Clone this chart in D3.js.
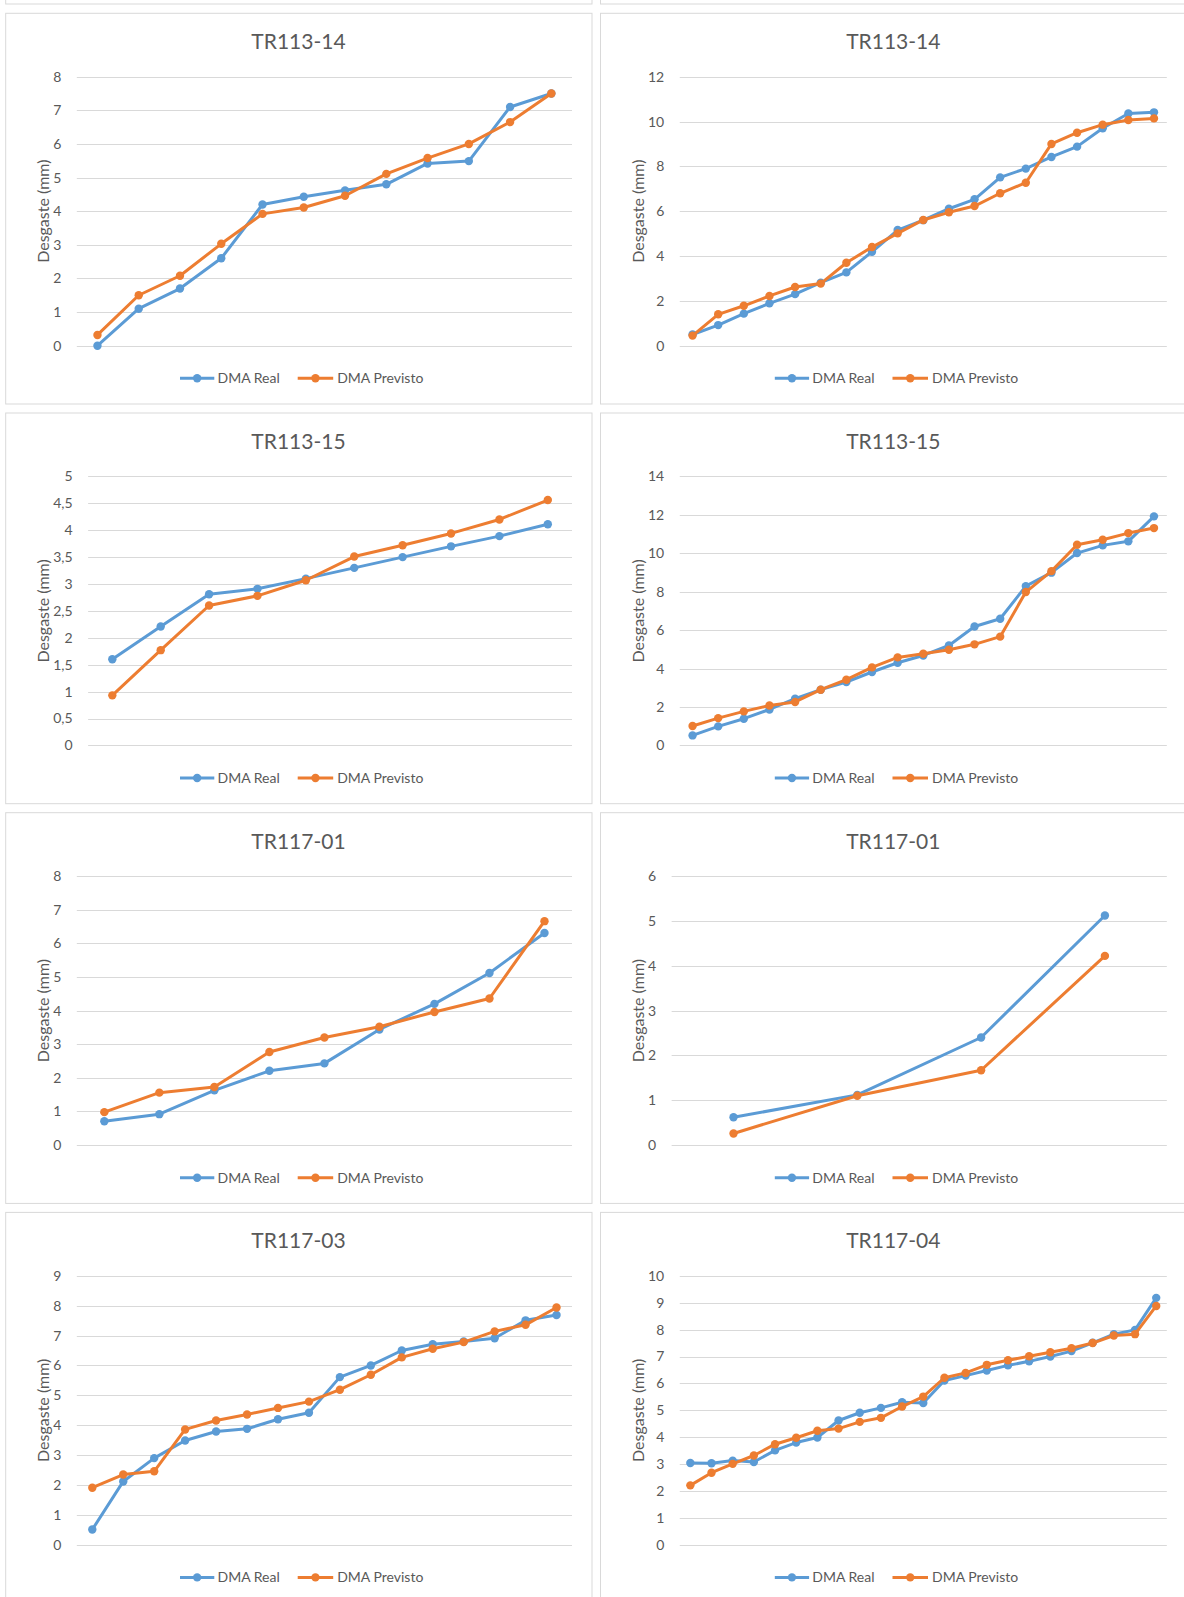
<!DOCTYPE html>
<html>
<head>
<meta charset="utf-8">
<script src="https://cdn.jsdelivr.net/npm/d3@7"></script>
<style>
  html, body { margin: 0; padding: 0; background: #fff; }
  svg { display: block; }
</style>
</head>
<body>
<svg id="chart" width="1184" height="1597"></svg>
<script>
// Wear measurements (mm): real vs. predicted, per track section
const titles = ["TR113-14", "TR113-14", "TR113-15", "TR113-15", "TR117-01", "TR117-01", "TR117-03", "TR117-04"];
const seriesNames = ["DMA Real", "DMA Previsto"];

const real1 = [0, 1.1, 1.7, 2.6, 4.2, 4.43, 4.62, 4.8, 5.42, 5.49, 7.1, 7.5];
const prev1 = [0.32, 1.5, 2.08, 3.03, 3.92, 4.11, 4.46, 5.11, 5.58, 6.0, 6.65, 7.5];

const real2 = [0.5, 0.92, 1.43, 1.89, 2.3, 2.81, 3.27, 4.19, 5.16, 5.6, 6.11, 6.53, 7.51, 7.9, 8.42, 8.88, 9.7, 10.36, 10.41];
const prev2 = [0.45, 1.4, 1.78, 2.22, 2.62, 2.77, 3.7, 4.4, 5.01, 5.61, 5.95, 6.23, 6.8, 7.27, 9.0, 9.5, 9.86, 10.07, 10.14];

const real3 = [1.6, 2.21, 2.81, 2.91, 3.1, 3.3, 3.5, 3.7, 3.89, 4.11];
const prev3 = [0.93, 1.77, 2.6, 2.78, 3.07, 3.51, 3.72, 3.94, 4.2, 4.56];

const real4 = [0.52, 0.99, 1.39, 1.87, 2.43, 2.9, 3.3, 3.82, 4.3, 4.68, 5.2, 6.19, 6.59, 8.29, 8.99, 10.01, 10.41, 10.62, 11.92];
const prev4 = [1.01, 1.42, 1.77, 2.08, 2.26, 2.9, 3.42, 4.06, 4.58, 4.77, 4.98, 5.26, 5.66, 7.98, 9.07, 10.44, 10.7, 11.05, 11.31];

const real5 = [0.71, 0.92, 1.63, 2.21, 2.43, 3.44, 4.2, 5.12, 6.31];
const prev5 = [0.98, 1.56, 1.73, 2.77, 3.2, 3.52, 3.96, 4.36, 6.66];

const real6 = [0.62, 1.12, 2.4, 5.12];
const prev6 = [0.26, 1.1, 1.67, 4.22];

const real7 = [0.51, 2.12, 2.9, 3.49, 3.79, 3.88, 4.2, 4.42, 5.61, 6.0, 6.5, 6.71, 6.8, 6.91, 7.51, 7.69];
const prev7 = [1.91, 2.35, 2.46, 3.86, 4.16, 4.36, 4.58, 4.79, 5.19, 5.69, 6.27, 6.56, 6.78, 7.14, 7.36, 7.94];

const real8 = [3.04, 3.03, 3.13, 3.08, 3.51, 3.8, 3.99, 4.62, 4.91, 5.09, 5.3, 5.27, 6.11, 6.29, 6.48, 6.67, 6.82, 7.0, 7.2, 7.51, 7.83, 7.99, 9.18];
const prev8 = [2.21, 2.68, 3.01, 3.32, 3.74, 3.98, 4.24, 4.32, 4.57, 4.72, 5.14, 5.51, 6.21, 6.39, 6.69, 6.86, 7.01, 7.16, 7.31, 7.5, 7.78, 7.83, 8.88];

// Y-axis tick values per chart
const ticks1 = [0, 1, 2, 3, 4, 5, 6, 7, 8];
const ticks2 = [0, 2, 4, 6, 8, 10, 12];
const ticks3 = [0, 0.5, 1, 1.5, 2, 2.5, 3, 3.5, 4, 4.5, 5];
const ticks4 = [0, 2, 4, 6, 8, 10, 12, 14];
const ticks5 = [0, 1, 2, 3, 4, 5, 6, 7, 8];
const ticks6 = [0, 1, 2, 3, 4, 5, 6];
const ticks7 = [0, 1, 2, 3, 4, 5, 6, 7, 8, 9];
const ticks8 = [0, 1, 2, 3, 4, 5, 6, 7, 8, 9, 10];

const charts = [
  { title: titles[0], real: real1, prev: prev1, ticks: ticks1 },
  { title: titles[1], real: real2, prev: prev2, ticks: ticks2 },
  { title: titles[2], real: real3, prev: prev3, ticks: ticks3 },
  { title: titles[3], real: real4, prev: prev4, ticks: ticks4 },
  { title: titles[4], real: real5, prev: prev5, ticks: ticks5 },
  { title: titles[5], real: real6, prev: prev6, ticks: ticks6 },
  { title: titles[6], real: real7, prev: prev7, ticks: ticks7 },
  { title: titles[7], real: real8, prev: prev8, ticks: ticks8 }
];

const COLORS = ["#5B9BD5", "#ED7D31"];
const TEXT = "#595959";
const GRID = "#D9D9D9";
const FONT = "Lato, 'Open Sans', sans-serif";

const svg = d3.select("#chart");

const panelW = 586.3, panelH = 390.7;
const colX = [5.7, 600.5];
const rowY0 = 13.3, rowPitch = 399.7;

// bottom edge of the chart block that sits above this grid
svg.append("rect").attr("x", colX[0]).attr("y", 4 - panelH).attr("width", panelW).attr("height", panelH)
  .attr("fill", "#fff").attr("stroke", GRID).attr("stroke-width", 1);
svg.append("rect").attr("x", colX[1]).attr("y", 4 - panelH).attr("width", panelW).attr("height", panelH)
  .attr("fill", "#fff").attr("stroke", GRID).attr("stroke-width", 1);

const fmt = v => String(v).replace(".", ",");

charts.forEach((c, i) => {
  const col = i % 2, row = Math.floor(i / 2);
  const L = colX[col], T = rowY0 + row * rowPitch;
  const g = svg.append("g");

  g.append("rect").attr("x", L).attr("y", T).attr("width", panelW).attr("height", panelH)
    .attr("fill", "#fff").attr("stroke", GRID).attr("stroke-width", 1);

  // measure tick label widths so the plot starts right after them
  const probe = g.append("g").attr("font-family", FONT).attr("font-size", 14);
  let maxW = 0;
  c.ticks.forEach(t => {
    const tx = probe.append("text").text(fmt(t));
    maxW = Math.max(maxW, tx.node().getComputedTextLength());
  });
  probe.remove();

  const labelLeft = L + 47.5;
  const plotLeft = labelLeft + maxW + 15.5;
  const plotRight = L + 566.3;
  const plotTop = T + 63.4, plotBottom = T + 332.4;

  const idx = d3.range(c.real.length);
  const x = d3.scalePoint().domain(idx).range([plotLeft, plotRight]).padding(0.5);
  const y = d3.scaleLinear().domain([0, c.ticks[c.ticks.length - 1]]).range([plotBottom, plotTop]);

  // gridlines
  g.append("g").selectAll("line").data(c.ticks).join("line")
    .attr("x1", plotLeft).attr("x2", plotRight)
    .attr("y1", d => Math.round(y(d)) + 0.5).attr("y2", d => Math.round(y(d)) + 0.5)
    .attr("stroke", GRID).attr("stroke-width", 1);

  // y-axis labels
  const yAxis = d3.axisLeft(y).tickValues(c.ticks).tickFormat(fmt).tickSize(0).tickPadding(15.5);
  const ax = g.append("g").attr("transform", `translate(${plotLeft},0)`).call(yAxis);
  ax.select(".domain").remove();
  ax.selectAll("text").attr("font-family", FONT).attr("font-size", 14).attr("fill", TEXT);

  // title
  g.append("text").attr("x", L + 292.8).attr("y", T + 36)
    .attr("text-anchor", "middle").attr("font-family", FONT).attr("font-size", 21)
    .attr("fill", TEXT).text(c.title);

  // y-axis title
  g.append("text")
    .attr("transform", `translate(${L + 37.5},${(plotTop + plotBottom) / 2}) rotate(-90)`)
    .attr("text-anchor", "middle").attr("dy", "0.35em")
    .attr("font-family", FONT).attr("font-size", 16).attr("fill", TEXT)
    .text("Desgaste (mm)");

  // series
  const line = d3.line().x((d, j) => x(j)).y(d => y(d));
  [c.real, c.prev].forEach((vals, s) => {
    g.append("path").datum(vals).attr("d", line)
      .attr("fill", "none").attr("stroke", COLORS[s]).attr("stroke-width", 3)
      .attr("stroke-linejoin", "round").attr("stroke-linecap", "round");
    g.append("g").selectAll("circle").data(vals).join("circle")
      .attr("cx", (d, j) => x(j)).attr("cy", d => y(d)).attr("r", 4.2)
      .attr("fill", COLORS[s]);
  });

  // legend
  const ly = T + 365;
  const legendItems = [
    { x0: L + 174.3, x1: L + 208.6, tx: L + 211.8 },
    { x0: L + 292, x1: L + 327.5, tx: L + 331.5 }
  ];
  legendItems.forEach((it, s) => {
    g.append("line").attr("x1", it.x0).attr("x2", it.x1).attr("y1", ly).attr("y2", ly)
      .attr("stroke", COLORS[s]).attr("stroke-width", 3);
    g.append("circle").attr("cx", (it.x0 + it.x1) / 2).attr("cy", ly).attr("r", 4.2).attr("fill", COLORS[s]);
    g.append("text").attr("x", it.tx).attr("y", ly).attr("dy", "0.36em")
      .attr("font-family", FONT).attr("font-size", 14).attr("fill", TEXT).text(seriesNames[s]);
  });
});
</script>
</body>
</html>
